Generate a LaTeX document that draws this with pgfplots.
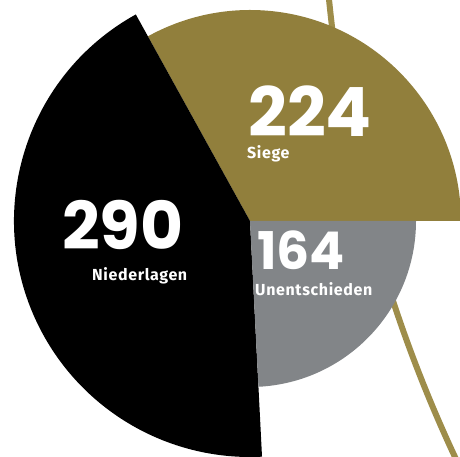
\documentclass[border=0pt]{standalone}
\usepackage{fontspec}
\setmainfont{Poppins}
\newfontfamily\labfont[LetterSpace=4]{Fira Sans}
\usepackage{pgfplots}
\usepackage{pgfplotstable}
\pgfplotsset{compat=1.18}
\definecolor{gold}{HTML}{917F3C}
\definecolor{goldline}{HTML}{9E8D4A}
\definecolor{drawgray}{HTML}{828588}
\pgfplotstableread{
label value radius
Siege 224 211
Niederlagen 290 236
Unentschieden 164 166
}\slices
\pgfplotstablegetelem{0}{value}\of\slices \let\va\pgfplotsretval
\pgfplotstablegetelem{1}{value}\of\slices \let\vb\pgfplotsretval
\pgfplotstablegetelem{2}{value}\of\slices \let\vc\pgfplotsretval
\pgfplotstablegetelem{0}{radius}\of\slices \let\ra\pgfplotsretval
\pgfplotstablegetelem{1}{radius}\of\slices \let\rb\pgfplotsretval
\pgfplotstablegetelem{2}{radius}\of\slices \let\rc\pgfplotsretval
\pgfmathsetmacro{\tot}{\va+\vb+\vc}
\pgfmathsetmacro{\angA}{\va/\tot*360}
\pgfmathsetmacro{\angB}{(\va+\vb)/\tot*360}
\begin{document}
\begin{tikzpicture}
\begin{axis}[x=1pt,y=1pt,xmin=0,xmax=460,ymin=0,ymax=457,
  hide axis, clip=true]
\path (rel axis cs:0,0) rectangle (rel axis cs:1,1);
% decorative thin arc
\draw[goldline, line width=6pt] (axis cs:1733,598) ++(184:1411pt) arc[start angle=184, end angle=207, radius=1411pt];
% slices
\fill[gold] (axis cs:250,236) -- ++(0:\ra pt) arc[start angle=0, end angle=\angA, radius=\ra pt] -- cycle;
\fill[black] (axis cs:250,236) -- ++(\angA:\rb pt) arc[start angle=\angA, end angle=\angB, radius=\rb pt] -- cycle;
\fill[drawgray] (axis cs:250,236) -- ++(\angB:\rc pt) arc[start angle=\angB, end angle=360, radius=\rc pt] -- cycle;
% labels
\tikzset{num/.style={anchor=base west, inner sep=0pt, text=white, text depth=0pt},
         lab/.style={anchor=base west, inner sep=0pt, text=white, text height=10pt, font=\labfont\fontsize{16}{16}\selectfont\bfseries}}
\node[num, font=\fontsize{68}{68}\selectfont\bfseries] at (axis cs:248,320) {224};
\node[lab] at (axis cs:247,298) {Siege};
\node[num, font=\fontsize{66}{66}\selectfont\bfseries] at (axis cs:62,207) {290};
\node[lab] at (axis cs:92,176) {Niederlagen};
\node[num, font=\fontsize{52}{52}\selectfont\bfseries] at (axis cs:257,187) {164};
\node[lab] at (axis cs:255,161) {Unentschieden};
\end{axis}
\end{tikzpicture}
\end{document}
